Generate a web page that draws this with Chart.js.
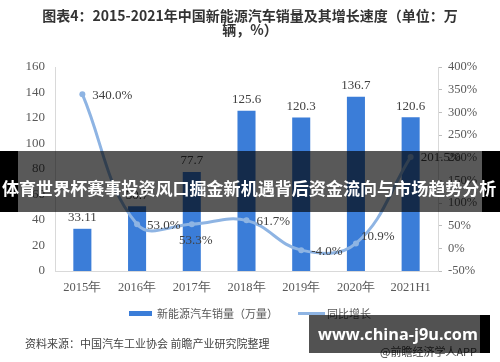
<!DOCTYPE html>
<html>
<head>
<meta charset="utf-8">
<script src="https://cdn.jsdelivr.net/npm/chart.js@4"></script>
<style>
  body { margin: 0; background: #fff; }
  #wrap { position: relative; width: 500px; height: 362px; overflow: hidden; font-family: "Noto Sans CJK SC", sans-serif; }
  #chart-box { position: absolute; left: 0; top: 0; width: 500px; height: 362px; }
  .title { position: absolute; left: 0; width: 500px; text-align: center; font-weight: bold; font-size: 14px; color: #333; line-height: 14px; }
  #legend { position: absolute; left: 0; top: 305px; width: 500px; height: 16px; display: flex; justify-content: center; align-items: center; font-size: 11px; color: #595959; }
  #legend .bar { width: 23px; height: 5px; background: #3b7dd8; margin-right: 5px; }
  #legend .line { width: 27px; height: 3px; background: #8eb4e3; margin-left: 20px; margin-right: 2px; }
  #source { position: absolute; left: 25px; top: 335px; font-size: 11px; color: #444; white-space: nowrap; }
  #app { position: absolute; left: 380px; top: 343px; font-size: 11px; color: #444; white-space: nowrap; }
  #banner { position: absolute; left: 0; top: 151px; width: 500px; height: 61px;
    background: linear-gradient(to right, #000 0, #000 18px, rgba(0,0,0,0.65) 18px, rgba(0,0,0,0.65) 482px, #000 482px, #000 500px); }
  #banner span { position: absolute; left: 2px; top: 36px; transform: translateY(-50%); color: #fff; font-weight: bold; font-size: 20px; white-space: nowrap; }
  #mark { position: absolute; left: 309px; top: 315px; width: 181px; height: 38px;
    background: linear-gradient(to right, rgba(0,0,0,0.68) 0, rgba(0,0,0,0.68) 171px, #000 171px, #000 181px); }
  #mark span { position: absolute; left: 9px; top: 19px; transform: translateY(-50%); color: #fff; font-weight: bold; font-size: 17px; font-family: "Open Sans", "DejaVu Sans", sans-serif; white-space: nowrap; }
</style>
</head>
<body>
<div id="wrap">
  <div id="chart-box"><canvas id="c"></canvas></div>
  <div class="title" style="top:8px">图表4：2015-2021年中国新能源汽车销量及其增长速度（单位：万</div>
  <div class="title" style="top:22px">辆，%）</div>
  <div id="legend"><div class="bar"></div><span>新能源汽车销量（万量）</span><div class="line"></div><span>同比增长</span></div>
  <div id="source">资料来源：中国汽车工业协会 前瞻产业研究院整理</div>
  <div id="app">@前瞻经济学人APP</div>
  <div id="banner"><span id="bannerText">体育世界杯赛事投资风口掘金新机遇背后资金流向与市场趋势分析</span></div>
  <div id="mark"><span id="markText">www.china-j9u.com</span></div>
</div>
<script>
const years = ['2015年', '2016年', '2017年', '2018年', '2019年', '2020年', '2021H1'];
const sales = [33.11, 50.7, 77.7, 125.6, 120.3, 136.7, 120.6];
const growth = [340.0, 53.0, 53.3, 61.7, -4.0, 10.9, 201.5];
const growthLabelSide = ['right', 'right', 'below', 'right', 'right', 'upright', 'right'];

const serif = '"Liberation Serif", "Times New Roman", serif';

// shrink overlay text so it spans the same width as in the picture
function fitWidth(id, target) {
  const el = document.getElementById(id);
  const fs = parseFloat(getComputedStyle(el).fontSize);
  const w = el.getBoundingClientRect().width;
  el.style.fontSize = (fs * target / w) + 'px';
}
fitWidth('bannerText', 495);
fitWidth('markText', 160);

// draws the value labels next to bars and points
const valueLabels = {
  id: 'valueLabels',
  afterDatasetsDraw(chart) {
    const ctx = chart.ctx;
    ctx.save();
    ctx.font = '13px ' + serif;
    ctx.fillStyle = '#404040';
    ctx.textBaseline = 'middle';

    chart.getDatasetMeta(1).data.forEach((bar, i) => {
      ctx.textAlign = 'center';
      ctx.fillText(String(sales[i]), bar.x, bar.y - 11);
    });

    chart.getDatasetMeta(0).data.forEach((pt, i) => {
      const txt = growth[i].toFixed(1) + '%';
      const side = growthLabelSide[i];
      if (side === 'below') {
        ctx.textAlign = 'center';
        ctx.fillText(txt, pt.x + 4, pt.y + 16);
      } else if (side === 'upright') {
        ctx.textAlign = 'left';
        ctx.fillText(txt, pt.x + 5, pt.y - 7);
      } else {
        ctx.textAlign = 'left';
        ctx.fillText(txt, pt.x + 10, pt.y + 1);
      }
    });
    ctx.restore();
  }
};

new Chart(document.getElementById('c'), {
  data: {
    labels: years,
    datasets: [{
      type: 'line',
      label: '同比增长',
      data: growth,
      yAxisID: 'y1',
      borderColor: '#8eb4e3',
      backgroundColor: '#8eb4e3',
      borderWidth: 3,
      pointRadius: 3,
      pointBorderWidth: 0,
      tension: 0.4,
      order: 0
    }, {
      type: 'bar',
      label: '新能源汽车销量（万量）',
      data: sales,
      yAxisID: 'y',
      backgroundColor: '#3b7dd8',
      barPercentage: 0.33,
      categoryPercentage: 1,
      order: 1
    }]
  },
  options: {
    responsive: true,
    maintainAspectRatio: false,
    animation: false,
    layout: { padding: { top: 67, bottom: 58, left: 0, right: 0 } },
    plugins: {
      legend: { display: false },
      tooltip: { enabled: false }
    },
    scales: {
      x: {
        grid: { display: false, drawTicks: false },
        border: { display: true, color: '#d9d9d9' },
        ticks: { padding: 9, color: '#595959', font: { family: serif, size: 12.5 } }
      },
      y: {
        position: 'left',
        min: 0, max: 160,
        ticks: { stepSize: 20, padding: 10, color: '#595959', font: { family: serif, size: 13 } },
        grid: { display: false, drawTicks: false },
        border: { display: true, color: '#d9d9d9' },
        afterFit(scale) { scale.width = 55; }
      },
      y1: {
        position: 'right',
        min: -50, max: 400,
        ticks: { stepSize: 50, padding: 6, color: '#595959', font: { family: serif, size: 12.5 },
          callback: v => v + '%' },
        grid: { drawOnChartArea: false, drawTicks: true, tickLength: 4, color: '#bfbfbf' },
        border: { display: true, color: '#d9d9d9' },
        afterFit(scale) { scale.width = 62; }
      }
    }
  },
  plugins: [valueLabels]
});
</script>
</body>
</html>
